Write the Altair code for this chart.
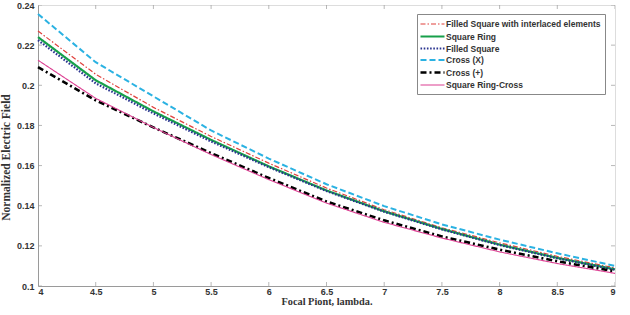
import altair as alt
import pandas as pd

# ---- data ----
x_vals = [4.0, 4.5, 5.0, 5.5, 6.0, 6.5, 7.0, 7.5, 8.0, 8.5, 9.0]

series_names = [
    "Filled Square with interlaced elements",
    "Square Ring",
    "Filled Square",
    "Cross (X)",
    "Cross (+)",
    "Square Ring-Cross",
]

filled_interlaced = [0.2270, 0.2055, 0.1890, 0.1745, 0.1612, 0.1488, 0.1380, 0.1290, 0.1215, 0.1148, 0.1090]
square_ring       = [0.2240, 0.2025, 0.1870, 0.1728, 0.1596, 0.1476, 0.1372, 0.1284, 0.1206, 0.1140, 0.1083]
filled_square     = [0.2225, 0.2010, 0.1860, 0.1720, 0.1592, 0.1473, 0.1370, 0.1282, 0.1204, 0.1138, 0.1081]
cross_x           = [0.2355, 0.2115, 0.1945, 0.1775, 0.1635, 0.1507, 0.1398, 0.1307, 0.1231, 0.1163, 0.1100]
cross_plus        = [0.2090, 0.1925, 0.1790, 0.1662, 0.1538, 0.1421, 0.1327, 0.1247, 0.1181, 0.1123, 0.1073]
ring_cross        = [0.2125, 0.1935, 0.1790, 0.1655, 0.1530, 0.1413, 0.1317, 0.1239, 0.1170, 0.1112, 0.1063]

all_series = [filled_interlaced, square_ring, filled_square, cross_x, cross_plus, ring_cross]

x_ticks = [4, 4.5, 5, 5.5, 6, 6.5, 7, 7.5, 8, 8.5, 9]
y_ticks = [0.1, 0.12, 0.14, 0.16, 0.18, 0.2, 0.22, 0.24]

# ---- styles ----
colors = ["#e0403c", "#17a04a", "#2b3590", "#2bb2e2", "#000000", "#dc3f92"]
dashes = [[5, 2, 1.5, 2], [1, 0], [1.6, 1.6], [6, 3], [6, 3, 2, 3], [1, 0]]
widths = [1.2, 2.2, 2.2, 2.0, 2.6, 1.1]

rows = []
for name, vals in zip(series_names, all_series):
    for xv, yv in zip(x_vals, vals):
        rows.append({"x": xv, "y": yv, "series": name})
df = pd.DataFrame(rows)

xscale = alt.Scale(domain=[4, 9], nice=False, zero=False)
yscale = alt.Scale(domain=[0.1, 0.24], nice=False, zero=False)

label_font = "Liberation Sans"
title_font = "Liberation Serif"
axis_grey = "#9a9a9a"
text_col = "#333333"

x_axis = alt.Axis(
    values=x_ticks,
    format="~g",
    ticks=False,
    grid=False,
    domainColor=axis_grey,
    labelFont=label_font,
    labelFontWeight="bold",
    labelFontSize=9,
    labelColor=text_col,
    labelPadding=1,
    title="Focal Piont, lambda.",
    titleFont=title_font,
    titleFontWeight="bold",
    titleFontSize=10.3,
    titleColor=text_col,
    titlePadding=0,
)
y_axis = alt.Axis(
    values=y_ticks,
    format="~g",
    ticks=False,
    grid=False,
    domainColor=axis_grey,
    labelFont=label_font,
    labelFontWeight="bold",
    labelFontSize=9,
    labelColor=text_col,
    labelPadding=4,
    title="Normalized Electric Field",
    titleFont=title_font,
    titleFontWeight="bold",
    titleFontSize=11.5,
    titleColor=text_col,
    titlePadding=5,
    titleY=152,
)

legend = alt.Legend(
    orient="none",
    legendX=379,
    legendY=9,
    title=None,
    symbolType="M-2.4,0H2.4",
    symbolSize=100,
    symbolOffset=5,
    labelOffset=7,
    labelFont=label_font,
    labelFontWeight="bold",
    labelFontSize=8.5,
    labelColor=text_col,
    strokeColor="#888888",
    fillColor="white",
    padding=4,
    rowPadding=1,
    cornerRadius=0,
)

lines = alt.Chart(df).mark_line().encode(
    x=alt.X("x:Q", scale=xscale, axis=x_axis),
    y=alt.Y("y:Q", scale=yscale, axis=y_axis),
    color=alt.Color("series:N", scale=alt.Scale(domain=series_names, range=colors),
                    sort=series_names, legend=legend),
    strokeDash=alt.StrokeDash("series:N", scale=alt.Scale(domain=series_names, range=dashes),
                              sort=series_names, legend=legend),
    strokeWidth=alt.StrokeWidth("series:N", scale=alt.Scale(type="ordinal", domain=series_names, range=widths),
                                sort=series_names, legend=legend),
    detail="series:N",
)

xt = pd.DataFrame({"x": x_ticks})
yt = pd.DataFrame({"y": y_ticks})

tick_style = dict(size=8, thickness=1, color=axis_grey, clip=True)

xtick_bottom = alt.Chart(xt).mark_tick(orient="vertical", **tick_style).encode(
    x=alt.X("x:Q", scale=xscale, axis=x_axis), y=alt.YDatum(0.1, scale=yscale, axis=y_axis))
xtick_top = alt.Chart(xt).mark_tick(orient="vertical", **tick_style).encode(
    x=alt.X("x:Q", scale=xscale, axis=x_axis), y=alt.YDatum(0.24, scale=yscale, axis=y_axis))
ytick_left = alt.Chart(yt).mark_tick(orient="horizontal", **tick_style).encode(
    y=alt.Y("y:Q", scale=yscale, axis=y_axis), x=alt.XDatum(4, scale=xscale, axis=x_axis))
ytick_right = alt.Chart(yt).mark_tick(orient="horizontal", **tick_style).encode(
    y=alt.Y("y:Q", scale=yscale, axis=y_axis), x=alt.XDatum(9, scale=xscale, axis=x_axis))

chart = alt.layer(lines, xtick_bottom, xtick_top, ytick_left, ytick_right).properties(
    width=577,
    height=281,
    autosize=alt.AutoSizeParams(type="none"),
    padding={"left": 38, "top": 5, "right": 15, "bottom": 29},
).configure_view(stroke=axis_grey, strokeWidth=1).configure(background="white")

chart.save("out.html", embed_options={"renderer": "svg", "actions": False})
